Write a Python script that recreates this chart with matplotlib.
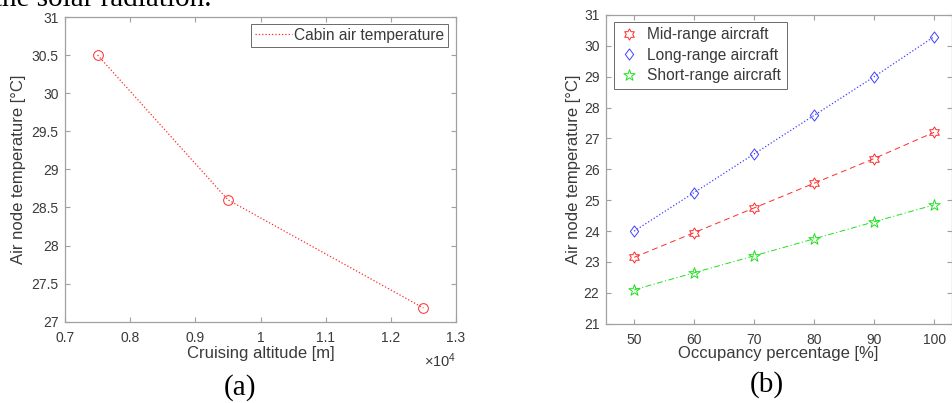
import matplotlib
matplotlib.use("Agg")
import matplotlib.pyplot as plt
from matplotlib.path import Path
from matplotlib.ticker import FuncFormatter, MultipleLocator

# ---- data ----
altitude_m = [7500, 9500, 12500]
cabin_temp = [30.5, 28.6, 27.18]

occupancy = [50, 60, 70, 80, 90, 100]
mid_range = [23.15, 23.95, 24.75, 25.55, 26.35, 27.2]
long_range = [24.0, 25.25, 26.5, 27.75, 29.0, 30.3]
short_range = [22.1, 22.65, 23.2, 23.75, 24.3, 24.85]

W, H = 952, 403
fig = plt.figure(figsize=(W / 100, H / 100), dpi=100)

SANS = ["Liberation Sans", "DejaVu Sans"]
SERIF = ["Liberation Serif", "DejaVu Serif"]
plt.rcParams["font.family"] = SANS
plt.rcParams["mathtext.fontset"] = "custom"
plt.rcParams["mathtext.rm"] = "Liberation Sans"
plt.rcParams["mathtext.it"] = "Liberation Sans"

TXT = "#3a3a3a"
SPINE = "#a0a0a0"
RED = "#ff2a2a"
BLUE = "#4040ff"
GREEN = "#1ee01e"


def px_axes(l, r, t, b):
    return fig.add_axes([l / W, (H - b) / H, (r - l) / W, (b - t) / H])


def style(ax):
    for s in ax.spines.values():
        s.set_color(SPINE)
        s.set_linewidth(0.9)
    ax.tick_params(direction="in", length=3.5, width=0.8, color=SPINE,
                   labelcolor=TXT, labelsize=10, top=True, right=True)
    ax.tick_params(axis="x", pad=7)
    ax.tick_params(axis="y", pad=4.5)


# ---- (a) ----
ax1 = px_axes(65, 456, 17, 321.7)
style(ax1)
ax1.plot(altitude_m, cabin_temp, linestyle=":", color=RED, lw=0.9,
         label="Cabin air temperature")
ax1.plot(altitude_m, cabin_temp, linestyle="none", marker="o", ms=7,
         mfc="none", mec=RED, mew=0.7)
ax1.set_xlim(7000, 13000)
ax1.set_ylim(27, 31)
ax1.xaxis.set_major_locator(MultipleLocator(1000))
ax1.yaxis.set_major_locator(MultipleLocator(0.5))
ax1.xaxis.set_major_formatter(FuncFormatter(lambda v, p: f"{v / 1e4:g}"))
ax1.yaxis.set_major_formatter(FuncFormatter(lambda v, p: f"{v:g}"))
ax1.set_xlabel("Cruising altitude [m]", fontsize=12, color=TXT)
ax1.xaxis.label.set_va("center")
ax1.xaxis.set_label_coords(0.5, -0.103)
ax1.set_ylabel("Air node temperature [°C]", fontsize=12, color=TXT)
ax1.yaxis.label.set_va("center")
ax1.yaxis.set_label_coords(-0.12, 0.5)
ax1.text(1.0, -0.128, r"$\times10^{4}$", transform=ax1.transAxes,
         ha="right", va="center", fontsize=10.5, color=TXT)
leg1 = ax1.legend(loc="upper right", bbox_to_anchor=(0.9795, 0.977),
                  borderaxespad=0, fontsize=11.2, frameon=True, fancybox=False,
                  handlelength=2.4, handletextpad=0.1, borderpad=0.25,
                  labelcolor=TXT)
leg1.get_frame().set_edgecolor("#444444")
leg1.get_frame().set_linewidth(0.7)

# ---- (b) ----
hexagram = Path.unit_regular_star(6, 0.577)
pentagram = Path.unit_regular_star(5, 0.382)
diamond = Path([(0, 1), (0.75, 0), (0, -1), (-0.75, 0), (0, 1)],
               [Path.MOVETO, Path.LINETO, Path.LINETO, Path.LINETO, Path.CLOSEPOLY])

ax2 = px_axes(605.7, 951.5, 15, 323.7)
style(ax2)
ax2.plot(occupancy, mid_range, linestyle=(0, (6, 4)), color=RED, lw=0.7)
ax2.plot(occupancy, long_range, linestyle=":", color=BLUE, lw=0.9)
ax2.plot(occupancy, short_range, linestyle=(0, (6, 2.5, 1.2, 2.5)), color=GREEN, lw=0.7)
ax2.plot(occupancy, mid_range, linestyle="none", marker=hexagram, ms=8,
         mfc="none", mec=RED, mew=0.7, label="Mid-range aircraft")
ax2.plot(occupancy, long_range, linestyle="none", marker=diamond, ms=8,
         mfc="none", mec=BLUE, mew=0.7, label="Long-range aircraft")
ax2.plot(occupancy, short_range, linestyle="none", marker=pentagram, ms=8.5,
         mfc="none", mec=GREEN, mew=0.7, label="Short-range aircraft")
ax2.set_xlim(45.25, 102.9)
ax2.set_ylim(21, 31)
ax2.xaxis.set_major_locator(MultipleLocator(10))
ax2.yaxis.set_major_locator(MultipleLocator(1))
ax2.set_xlabel("Occupancy percentage [%]", fontsize=12, color=TXT)
ax2.xaxis.label.set_va("center")
ax2.xaxis.set_label_coords(0.5, -0.096)
ax2.set_ylabel("Air node temperature [°C]", fontsize=12, color=TXT)
ax2.yaxis.label.set_va("center")
ax2.yaxis.set_label_coords(-0.094, 0.5)
leg2 = ax2.legend(loc="upper left", bbox_to_anchor=(0.024, 0.978),
                  borderaxespad=0, fontsize=11.2, frameon=True, fancybox=False,
                  handlelength=1.2, handletextpad=0.6, borderpad=0.35,
                  labelspacing=0.35, labelcolor=TXT)
leg2.get_frame().set_edgecolor("#444444")
leg2.get_frame().set_linewidth(0.7)

# ---- surrounding document text ----
fig.text(212 / W, 1 - 6 / H, "the solar radiation.", family=SERIF,
         fontsize=21, ha="right", va="baseline", color="black")
fig.text(240 / W, 1 - 388 / H, "(a)", family=SERIF, fontsize=21,
         ha="center", va="center", color="black")
fig.text(767 / W, 1 - 385 / H, "(b)", family=SERIF, fontsize=21,
         ha="center", va="center", color="black")

fig.savefig("out.png", dpi=100)
